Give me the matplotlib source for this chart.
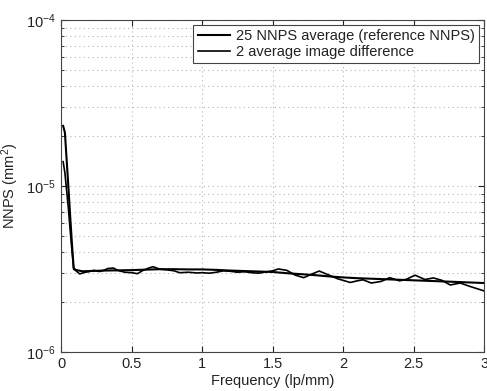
import numpy as np
import matplotlib
matplotlib.use("Agg")
import matplotlib.pyplot as plt
from matplotlib.ticker import LogLocator, NullFormatter

plt.rcParams['font.family'] = ['Liberation Sans', 'DejaVu Sans']
plt.rcParams['mathtext.fontset'] = 'custom'
plt.rcParams['mathtext.rm'] = 'Liberation Sans'
plt.rcParams['mathtext.it'] = 'Liberation Sans:italic'

# 25 NNPS average (reference NNPS) - smoother curve
freq_ref = [0.0125, 0.025, 0.05, 0.0625, 0.075, 0.0875, 0.1, 0.15, 0.2, 0.3, 0.4, 0.5,
            0.6, 0.7, 0.8, 0.9, 1.0, 1.1, 1.2, 1.3, 1.4, 1.5, 1.6, 1.7, 1.8, 1.9,
            2.0, 2.1, 2.2, 2.3, 2.4, 2.5, 2.6, 2.7, 2.8, 2.9, 3.0]
nnps_ref = [2.3e-5, 2.1e-5, 9.8e-6, 6.6e-6, 4.5e-6, 3.2e-6, 3.12e-6, 3.06e-6, 3.07e-6, 3.09e-6,
            3.1e-6, 3.11e-6, 3.13e-6, 3.15e-6, 3.15e-6, 3.14e-6, 3.14e-6, 3.12e-6, 3.09e-6,
            3.07e-6, 3.05e-6, 3.03e-6, 2.98e-6, 2.94e-6, 2.9e-6, 2.85e-6, 2.81e-6, 2.78e-6,
            2.76e-6, 2.74e-6, 2.72e-6, 2.7e-6, 2.68e-6, 2.66e-6, 2.64e-6, 2.62e-6, 2.6e-6]

# 2 average image difference - noisier curve
freq_diff = [0.0125, 0.025, 0.05, 0.0625, 0.075, 0.0875, 0.1, 0.13, 0.17, 0.2, 0.23, 0.27,
             0.3, 0.33, 0.37, 0.4, 0.45, 0.5, 0.54, 0.58, 0.62, 0.65, 0.7, 0.75, 0.8,
             0.84, 0.9, 0.96, 1.0, 1.05, 1.1, 1.15, 1.2, 1.25, 1.3, 1.35, 1.4, 1.45,
             1.5, 1.54, 1.6, 1.66, 1.72, 1.78, 1.83, 1.9, 1.96, 2.05, 2.1, 2.14, 2.2,
             2.27, 2.33, 2.4, 2.45, 2.51, 2.58, 2.64, 2.7, 2.76, 2.83, 2.9, 3.0]
nnps_diff = [1.4e-5, 1.2e-5, 7.3e-6, 5.4e-6, 4.1e-6, 3.15e-6, 3.1e-6, 2.95e-6, 3.02e-6, 3.05e-6,
             3.1e-6, 3.05e-6, 3.1e-6, 3.18e-6, 3.2e-6, 3.1e-6, 3.02e-6, 3.0e-6, 2.96e-6,
             3.1e-6, 3.2e-6, 3.26e-6, 3.15e-6, 3.12e-6, 3.08e-6, 3.0e-6, 3.02e-6, 2.99e-6,
             3.0e-6, 2.98e-6, 3.02e-6, 3.08e-6, 3.06e-6, 3.02e-6, 3.04e-6, 3.0e-6, 2.98e-6,
             3.03e-6, 3.08e-6, 3.16e-6, 3.1e-6, 2.9e-6, 2.8e-6, 2.95e-6, 3.07e-6, 2.9e-6,
             2.76e-6, 2.62e-6, 2.68e-6, 2.72e-6, 2.6e-6, 2.66e-6, 2.8e-6, 2.68e-6, 2.74e-6,
             2.9e-6, 2.73e-6, 2.79e-6, 2.7e-6, 2.53e-6, 2.6e-6, 2.48e-6, 2.33e-6]

fig = plt.figure(figsize=(4.87, 3.91), dpi=100)
ax = fig.add_axes([0.126, 0.1, 0.868, 0.849])

ax.plot(freq_ref, nnps_ref, color='black', lw=1.5, label='25 NNPS average (reference NNPS)',
        solid_joinstyle='round')
ax.plot(freq_diff, nnps_diff, color='black', lw=1.2, label='2 average image difference',
        solid_joinstyle='round')

ax.set_yscale('log')
ax.set_xlim(0, 3)
ax.set_ylim(1e-6, 1e-4)
ax.set_xticks([0, 0.5, 1, 1.5, 2, 2.5, 3])
ax.set_xticklabels(['0', '0.5', '1', '1.5', '2', '2.5', '3'])
ax.yaxis.set_major_locator(LogLocator(base=10, numticks=5))
ax.yaxis.set_minor_locator(LogLocator(base=10, subs=np.arange(2, 10), numticks=20))
ax.yaxis.set_minor_formatter(NullFormatter())

ax.grid(True, which='major', linestyle=(0, (1, 3)), color='#b4b4b4', lw=0.8)
ax.grid(True, which='minor', axis='y', linestyle=(0, (1, 3)), color='#b4b4b4', lw=0.8)
ax.tick_params(which='both', direction='in', top=True, right=True, labelsize=10.5, pad=4,
               colors='#222222')
ax.tick_params(which='major', length=4)
ax.tick_params(which='minor', length=2)
for s in ax.spines.values():
    s.set_linewidth(0.8)
    s.set_color('#444444')

ax.set_xlabel('Frequency (lp/mm)', fontsize=10.5, labelpad=2, color='#222222')
ax.set_ylabel('NNPS (mm$^2$)', fontsize=10.5, labelpad=4, color='#222222')

leg = ax.legend(loc='upper right', fontsize=10.5, fancybox=False, edgecolor='#444444',
                framealpha=1, handlelength=2.2, handletextpad=0.4, borderpad=0.3,
                labelspacing=0.1, borderaxespad=0.35)
leg.get_frame().set_linewidth(0.8)
for t in leg.get_texts():
    t.set_color('#222222')

fig.savefig('out.png', dpi=100)
